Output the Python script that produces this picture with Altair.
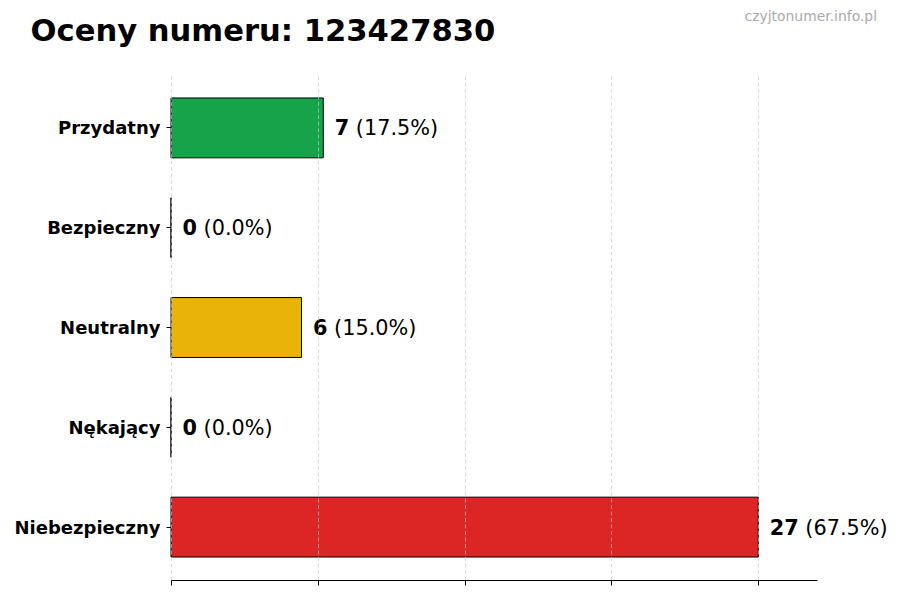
import altair as alt
import pandas as pd

categories = ["Przydatny", "Bezpieczny", "Neutralny", "Nękający", "Niebezpieczny"]
counts = [7, 0, 6, 0, 27]
colors = ["#16a34a", "#9ca3af", "#eab308", "#f97316", "#dc2626"]
title_text = "Oceny numeru: 123427830"
watermark = "czyjtonumer.info.pl"

total = sum(counts)
df = pd.DataFrame({
    "category": categories,
    "count": counts,
    "color": colors,
    "pct": [f"({c / total * 100:.1f}%)" for c in counts],
})

max_x = max(counts) * 1.1
tick_vals = [max(counts) * i / 4 for i in range(5)]
FONT = "DejaVu Sans"

base = alt.Chart(df)

y_enc = alt.Y(
    "category:N",
    sort=categories,
    title=None,
    scale=alt.Scale(paddingInner=0.4, paddingOuter=0.23),
    axis=alt.Axis(
        domain=False,
        ticks=True,
        tickSize=5,
        tickColor="black",
        tickWidth=1,
        labelFont=FONT,
        labelFontSize=18,
        labelFontWeight="bold",
        labelColor="black",
        labelPadding=6,
        labelBaseline="middle",
        labelOffset=1.5,
        grid=False,
    ),
)

x_enc = alt.X(
    "count:Q",
    title=None,
    scale=alt.Scale(domain=[0, max_x], nice=False, zero=True),
    axis=alt.Axis(
        values=tick_vals,
        labels=False,
        domain=True,
        domainColor="black",
        domainWidth=1.1,
        ticks=True,
        tickSize=5,
        tickColor="black",
        tickWidth=1,
        grid=True,
        gridColor="#c8c8c8",
        gridOpacity=0.8,
        gridDash=[4, 2.5],
        gridWidth=0.8,
        zindex=1,
    ),
)

bars = base.mark_bar(stroke="black", strokeWidth=1, opacity=1).encode(
    x=x_enc,
    y=y_enc,
    color=alt.Color("color:N", scale=None),
)

num_text = base.mark_text(
    align="left", baseline="middle", dx=11.5, dy=1.5,
    font=FONT, fontSize=20.8, fontWeight="bold", color="black",
).encode(
    x="count:Q",
    y=alt.Y("category:N", sort=categories),
    text="count:Q",
)

# percentage text follows the bold number: offset depends on digit count
pct_layers = []
for ndig, lo, hi in [(1, 0, 10), (2, 10, 100), (3, 100, 1000)]:
    pct_layers.append(
        base.transform_filter(
            f"datum.count >= {lo} && datum.count < {hi}"
        ).mark_text(
            align="left", baseline="middle", dx=11.5 + ndig * 14.5 + 6.6, dy=1.5,
            font=FONT, fontSize=20.8, fontWeight="normal", color="black",
        ).encode(
            x="count:Q",
            y=alt.Y("category:N", sort=categories),
            text="pct:N",
        )
    )

wm = alt.Chart(pd.DataFrame({"t": [watermark]})).mark_text(
    align="right", baseline="alphabetic",
    font=FONT, fontSize=13.9, color="#aaaaaa",
).encode(
    x=alt.value(706),
    y=alt.value(-54),
    text="t:N",
)

ttl = alt.Chart(pd.DataFrame({"t": [title_text]})).mark_text(
    align="left", baseline="alphabetic",
    font=FONT, fontSize=30.6, fontWeight="bold", color="black",
).encode(
    x=alt.value(-140.5),
    y=alt.value(-34),
    text="t:N",
)

chart = alt.layer(bars, num_text, *pct_layers, wm, ttl).properties(
    width=646,
    height=505,
    background="white",
    autosize=alt.AutoSizeParams(type="none"),
    padding={"left": 163, "top": 67, "right": 75, "bottom": 12},
).configure_view(strokeWidth=0, stroke="transparent")

chart.save("out.html", embed_options={"renderer": "svg", "actions": False})
